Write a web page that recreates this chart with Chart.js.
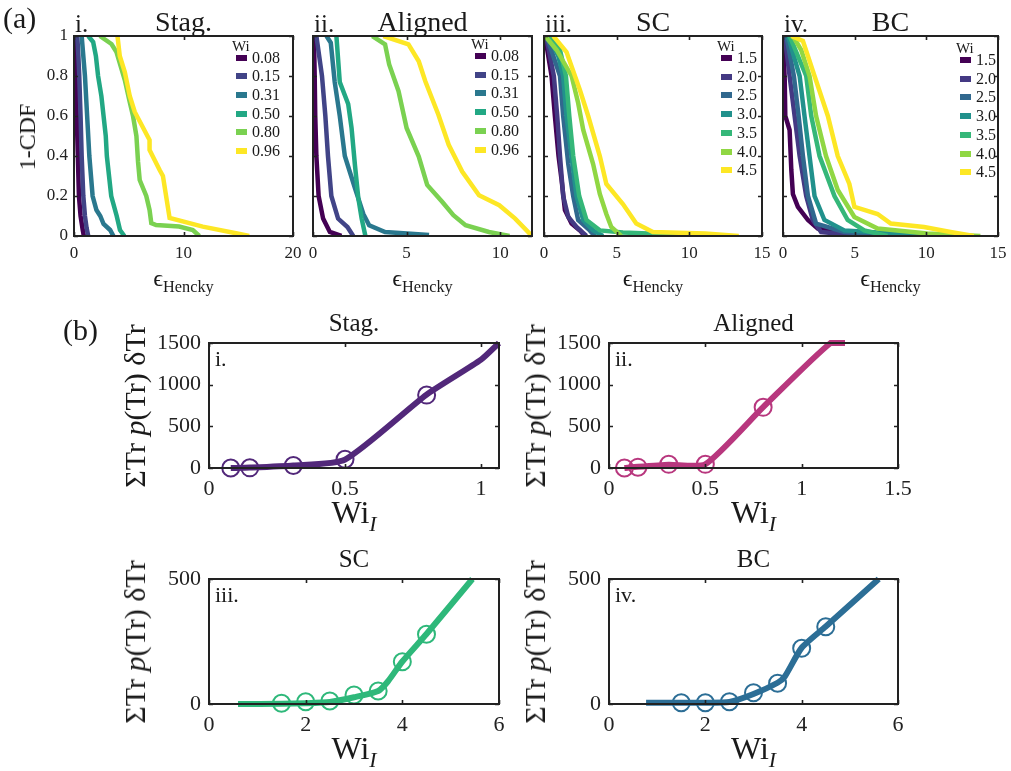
<!DOCTYPE html>
<html>
<head>
<meta charset="utf-8">
<script src="https://cdn.jsdelivr.net/npm/chart.js@4"></script>
<style>
  body { margin: 0; background: #fff; width: 1011px; height: 771px; position: relative; overflow: hidden;
         font-family: "Liberation Serif", "DejaVu Serif", serif; color: #1a1a1a; }
  canvas { position: absolute; }
  .t { position: absolute; white-space: nowrap; line-height: 1; }
  .c { transform: translate(-50%, -50%); }
  .r { transform: translate(-50%, -50%) rotate(-90deg); }
  sub { font-size: 68%; vertical-align: -0.35em; }
</style>
</head>
<body>
<script>
// ---- (a) 1-CDF of Hencky strain, one curve per Wi ----
const viridis6 = ['#440154', '#414487', '#2a788e', '#22a884', '#7ad151', '#fde725'];
const viridis7 = ['#440154', '#443983', '#31688e', '#21918c', '#35b779', '#90d743', '#fde725'];

const stagLabels = ['0.08', '0.15', '0.31', '0.50', '0.80', '0.96'];
const stagCurves = [
  [[0.05,1],[0.1,0.9],[0.15,0.8],[0.25,0.6],[0.35,0.4],[0.45,0.2],[0.6,0.1],[0.8,0.03],[0.9,0]],
  [[0.3,1],[0.4,0.9],[0.48,0.8],[0.6,0.6],[0.7,0.4],[0.85,0.2],[1.0,0.1],[1.15,0.04],[1.3,0]],
  [[0.7,1],[0.85,0.9],[1.0,0.8],[1.2,0.6],[1.4,0.4],[1.55,0.3],[1.7,0.2],[2.05,0.13],[2.4,0.1],[2.7,0.06],[3.3,0.03],[3.6,0]],
  [[1.3,1],[1.75,0.97],[2.0,0.9],[2.2,0.8],[2.5,0.7],[2.7,0.6],[2.9,0.5],[3.0,0.4],[3.2,0.3],[3.4,0.2],[3.9,0.1],[4.2,0.03],[4.6,0]],
  [[2.36,1],[3.42,0.96],[3.88,0.92],[4.64,0.78],[5.09,0.67],[5.39,0.6],[5.7,0.5],[5.85,0.37],[6.0,0.28],[6.6,0.2],[6.9,0.13],[7.06,0.064],[7.5,0.055],[9.6,0.047],[10.85,0.03],[11.45,0]],
  [[3.97,1],[4.18,0.9],[4.64,0.82],[5.09,0.7],[5.55,0.62],[6.9,0.48],[6.9,0.43],[7.82,0.33],[8.12,0.3],[8.73,0.09],[11.76,0.047],[14.8,0.014],[16.0,0]]
];

const alignedLabels = ['0.08', '0.15', '0.31', '0.50', '0.80', '0.96'];
const alignedCurves = [
  [[0.05,1],[0.09,0.8],[0.12,0.6],[0.18,0.4],[0.3,0.2],[0.54,0.087],[0.9,0.02],[1.52,0]],
  [[0.18,1],[0.48,0.8],[0.66,0.6],[0.8,0.4],[0.98,0.2],[1.34,0.087],[1.84,0.045],[2.15,0]],
  [[0.72,1],[0.95,0.966],[1.16,0.77],[1.43,0.6],[1.7,0.4],[2.24,0.24],[2.69,0.11],[3.0,0.054],[3.85,0.02],[6.2,0.005]],
  [[1.25,1],[1.43,0.77],[1.88,0.66],[2.06,0.54],[2.24,0.355],[2.42,0.19],[2.6,0.087],[2.8,0]],
  [[3.17,1],[3.85,0.958],[4.07,0.858],[4.57,0.724],[5.0,0.54],[5.65,0.397],[6.1,0.255],[6.9,0.171],[7.5,0.104],[8.15,0.054],[9.4,0.02],[10.5,0]],
  [[3.76,1],[5.1,0.958],[5.65,0.874],[6.0,0.774],[6.7,0.606],[7.25,0.456],[7.97,0.322],[8.87,0.204],[9.95,0.154],[10.8,0.087],[11.7,0]]
];

const scLabels = ['1.5', '2.0', '2.5', '3.0', '3.5', '4.0', '4.5'];
const scCurves = [
  [[0.07,1],[0.52,0.8],[0.75,0.6],[1.0,0.4],[1.21,0.28],[1.44,0.13],[1.9,0.062],[2.47,0.028],[2.8,0]],
  [[0.14,1],[0.68,0.8],[0.91,0.6],[1.1,0.4],[1.32,0.2],[1.67,0.095],[2.24,0.045],[2.92,0]],
  [[0.18,1],[1.1,0.8],[1.32,0.6],[1.67,0.36],[2.01,0.2],[2.35,0.08],[3.15,0.028],[3.49,0]],
  [[0.3,1],[0.98,0.9],[1.32,0.8],[1.55,0.6],[1.89,0.4],[2.24,0.2],[2.7,0.08],[3.38,0.028],[4.06,0]],
  [[0.41,1],[1.1,0.93],[1.51,0.8],[1.74,0.6],[2.01,0.4],[2.42,0.2],[2.92,0.08],[3.84,0.028],[5.43,0.018],[9.77,0.005]],
  [[0.07,1],[0.87,0.93],[1.9,0.8],[2.35,0.665],[2.7,0.53],[3.38,0.36],[3.84,0.21],[4.29,0.11],[4.63,0.045],[5.32,0]],
  [[0.64,1],[1.55,0.92],[2.47,0.73],[3.04,0.6],[3.84,0.4],[4.29,0.26],[5.43,0.16],[6.35,0.062],[7.49,0.02],[11.1,0.012],[13.4,0]]
];

const bcLabels = ['1.5', '2.0', '2.5', '3.0', '3.5', '4.0', '4.5'];
const bcCurves = [
  [[0,1],[0.12,0.78],[0.16,0.6],[0.46,0.53],[0.58,0.33],[0.69,0.21],[1.04,0.146],[1.74,0.08],[2.43,0.037],[4.28,0.02],[5.67,0]],
  [[0.12,1],[0.46,0.8],[0.81,0.6],[1.16,0.4],[1.62,0.2],[2.08,0.08],[2.66,0.02],[5.67,0]],
  [[0.23,1],[0.76,0.8],[1.09,0.6],[1.39,0.4],[1.74,0.2],[2.31,0.062],[4.28,0.02],[8.22,0]],
  [[0.35,1],[1.16,0.8],[1.5,0.6],[1.85,0.4],[2.2,0.2],[2.89,0.08],[4.28,0.028],[10.65,0]],
  [[0.46,1],[1.62,0.8],[1.97,0.6],[2.55,0.4],[3.59,0.2],[4.51,0.08],[5.67,0.028],[7.29,0]],
  [[0.69,1],[1.27,0.93],[1.85,0.8],[2.31,0.6],[3.0,0.4],[3.82,0.23],[4.98,0.095],[6.6,0.037],[10.07,0.012],[13.77,0]],
  [[0.58,1],[1.39,0.975],[2.2,0.8],[3.13,0.6],[3.82,0.4],[4.63,0.26],[4.98,0.146],[6.6,0.11],[7.52,0.062],[9.84,0.045],[11.69,0.02],[13.31,0]]
];

// ---- (b) sum Tr p(Tr) dTr versus Wi_I ----
const stagWi = [0.08, 0.15, 0.31, 0.5, 0.8];
const stagTr = [0, 2, 30, 105, 875];
const stagFitWi = [0.08, 0.15, 0.31, 0.5, 0.8, 1.0, 1.066];
const stagFitTr = [0, 5, 30, 100, 880, 1300, 1500];

const alignedWi = [0.08, 0.15, 0.31, 0.5, 0.8];
const alignedTr = [0, 10, 44, 44, 728];
const alignedFitWi = [0.08, 0.15, 0.31, 0.5, 0.8, 1.15, 1.225];
const alignedFitTr = [0, 15, 40, 45, 730, 1500, 1500];

const scWi = [1.5, 2.0, 2.5, 3.0, 3.5, 4.0, 4.5];
const scTr = [3, 9, 12, 36, 52, 169, 279];
const scFitWi = [0.6, 1.5, 2.0, 2.5, 3.0, 3.5, 3.7, 4.0, 4.5, 5.45];
const scFitTr = [0, 1, 3, 8, 27, 52, 90, 170, 280, 500];

const bcWi = [1.5, 2.0, 2.5, 3.0, 3.5, 4.0, 4.5];
const bcTr = [5, 5, 9, 45, 83, 223, 309];
const bcFitWi = [0.77, 1.5, 2.0, 2.5, 3.0, 3.5, 3.65, 4.0, 4.5, 5.6];
const bcFitTr = [5, 5, 5, 8, 40, 85, 110, 225, 310, 500];

const FONT = '"Liberation Serif", "DejaVu Serif", serif';
const INK = '#222';

// frame with inward ticks on all four sides
const boxPlugin = {
  id: 'box',
  afterDatasetsDraw(chart) {
    const { ctx, chartArea: a, scales } = chart;
    ctx.save();
    ctx.strokeStyle = INK;
    ctx.lineWidth = 1.6;
    ctx.beginPath();
    scales.x.ticks.forEach(t => {
      const px = Math.round(scales.x.getPixelForValue(t.value)) + 0.5;
      ctx.moveTo(px, a.bottom); ctx.lineTo(px, a.bottom - 4);
      ctx.moveTo(px, a.top); ctx.lineTo(px, a.top + 4);
    });
    scales.y.ticks.forEach(t => {
      const py = Math.round(scales.y.getPixelForValue(t.value)) + 0.5;
      ctx.moveTo(a.left, py); ctx.lineTo(a.left + 4, py);
      ctx.moveTo(a.right, py); ctx.lineTo(a.right - 4, py);
    });
    ctx.stroke();
    ctx.lineWidth = 2;
    ctx.strokeRect(a.left, a.top, a.right - a.left, a.bottom - a.top);
    ctx.restore();
  }
};

function fmt(v) { return String(Math.round(v * 100) / 100); }

function zeroPad(a) { a.paddingLeft = 0; a.paddingRight = 0; a.paddingTop = 0; a.paddingBottom = 0; }

function panel(box, x, y, datasets, tickSize, yLabels) {
  const L = 80, T = 15, R = 15, B = 45;
  const c = document.createElement('canvas');
  c.width = box.r - box.l + L + R;
  c.height = box.b - box.t + T + B;
  c.style.left = (box.l - L) + 'px';
  c.style.top = (box.t - T) + 'px';
  document.body.appendChild(c);
  new Chart(c, {
    type: 'line',
    data: { datasets },
    options: {
      responsive: false, animation: false, devicePixelRatio: 1,
      layout: { padding: { top: T, right: R, left: 0, bottom: 0 } },
      plugins: { legend: { display: false }, tooltip: { enabled: false } },
      scales: {
        x: {
          type: 'linear', min: 0, max: x.max,
          grid: { display: false, drawTicks: false }, border: { display: false },
          ticks: { stepSize: x.step, includeBounds: false, autoSkip: false, maxRotation: 0,
                   padding: x.pad, color: INK, font: { family: FONT, size: tickSize }, callback: fmt },
          afterFit: a => { a.height = B; zeroPad(a); }
        },
        y: {
          type: 'linear', min: 0, max: y.max,
          grid: { display: false, drawTicks: false }, border: { display: false },
          ticks: { stepSize: y.step, includeBounds: false, autoSkip: false, display: yLabels,
                   padding: y.pad, color: INK, font: { family: FONT, size: tickSize }, callback: fmt },
          afterFit: a => { a.width = L; zeroPad(a); }
        }
      }
    },
    plugins: [boxPlugin]
  });
}

function cdfSets(curves, colors) {
  return curves.map((pts, i) => ({
    data: pts.map(p => ({ x: p[0], y: p[1] })),
    borderColor: colors[i], borderWidth: 4.5, pointRadius: 0, tension: 0, fill: false, order: -i
  }));
}

function trSets(wi, tr, fitWi, fitTr, color) {
  return [
    { data: wi.map((v, i) => ({ x: v, y: tr[i] })), showLine: false, pointRadius: 8.5,
      pointBorderWidth: 2, pointBorderColor: color, pointBackgroundColor: 'rgba(0,0,0,0)', order: 0, clip: 12 },
    { data: fitWi.map((v, i) => ({ x: v, y: fitTr[i] })), borderColor: color, borderWidth: 6,
      pointRadius: 0, tension: 0.2, fill: false, order: 1, clip: 4 }
  ];
}

function text(html, x, y, size, cls) {
  const d = document.createElement('div');
  d.className = 't ' + (cls || '');
  d.style.left = x + 'px'; d.style.top = y + 'px'; d.style.fontSize = size + 'px';
  d.innerHTML = html;
  document.body.appendChild(d);
}

function legend(x, y0, step, labels, colors) {
  text('Wi', x - 4, y0 - 19, 15);
  labels.forEach((l, i) => {
    const y = y0 + i * step;
    const p = document.createElement('div');
    p.style.cssText = `position:absolute;left:${x}px;top:${y - 3}px;width:11px;height:6px;background:${colors[i]}`;
    document.body.appendChild(p);
    text(l, x + 16, y - 8, 16);
  });
}

// ---- top row ----
const topT = 36, topB = 236;
const tops = [
  { l: 74, r: 293, xmax: 20, xstep: 10, curves: stagCurves, labels: stagLabels, colors: viridis6, title: 'Stag.', num: 'i.', leg: [236, 57.5] },
  { l: 313, r: 532, xmax: 11.7, xstep: 5, curves: alignedCurves, labels: alignedLabels, colors: viridis6, title: 'Aligned', num: 'ii.', leg: [475, 56] },
  { l: 544, r: 762, xmax: 15, xstep: 5, curves: scCurves, labels: scLabels, colors: viridis7, title: 'SC', num: 'iii.', leg: [721, 58] },
  { l: 783, r: 998, xmax: 15, xstep: 5, curves: bcCurves, labels: bcLabels, colors: viridis7, title: 'BC', num: 'iv.', leg: [960, 60] }
];
tops.forEach((p, k) => {
  panel({ l: p.l, r: p.r, t: topT, b: topB }, { max: p.xmax, step: p.xstep, pad: 7 }, { max: 1, step: 0.2, pad: 6 },
        cdfSets(p.curves, p.colors), 17, k === 0);
  const cx = (p.l + p.r) / 2;
  text(p.title, cx, 22, 28, 'c');
  text(p.num, p.l + 1, 11, 25);
  text('ϵ<sub>Hencky</sub>', cx, 281, 24, 'c');
  legend(p.leg[0], p.leg[1], 18.7, p.labels, p.colors);
});
text('(a)', 3, 3, 30);
text('1-CDF', 27, 137, 24, 'r');

// ---- bottom rows ----
const bots = [
  { l: 209, r: 499, t: 343, b: 468, x: { max: 1.066, step: 0.5 }, y: { max: 1500, step: 500 },
    sets: trSets(stagWi, stagTr, stagFitWi, stagFitTr, '#52287a'), title: 'Stag.', num: 'i.' },
  { l: 609, r: 898, t: 343, b: 468, x: { max: 1.5, step: 0.5 }, y: { max: 1500, step: 500 },
    sets: trSets(alignedWi, alignedTr, alignedFitWi, alignedFitTr, '#b8377e'), title: 'Aligned', num: 'ii.' },
  { l: 209, r: 499, t: 579, b: 704, x: { max: 6, step: 2 }, y: { max: 500, step: 500 },
    sets: trSets(scWi, scTr, scFitWi, scFitTr, '#2eb87a'), title: 'SC', num: 'iii.' },
  { l: 609, r: 898, t: 579, b: 704, x: { max: 6, step: 2 }, y: { max: 500, step: 500 },
    sets: trSets(bcWi, bcTr, bcFitWi, bcFitTr, '#2c6e96'), title: 'BC', num: 'iv.' }
];
bots.forEach(p => {
  panel({ l: p.l, r: p.r, t: p.t, b: p.b }, { max: p.x.max, step: p.x.step, pad: 8 }, { max: p.y.max, step: p.y.step, pad: 8 },
        p.sets, 22, true);
  const cx = (p.l + p.r) / 2;
  text(p.title, cx, p.t - 21, 25, 'c');
  text(p.num, p.l + 6, p.t + 5, 22);
  text('Wi<sub><i>I</i></sub>', cx, p.b + 48, 32, 'c');
  text('ΣTr <i>p</i>(Tr) δTr', p.l - 74, (p.t + p.b) / 2, 30, 'r');
});
text('(b)', 63, 315, 30);
</script>
</body>
</html>
